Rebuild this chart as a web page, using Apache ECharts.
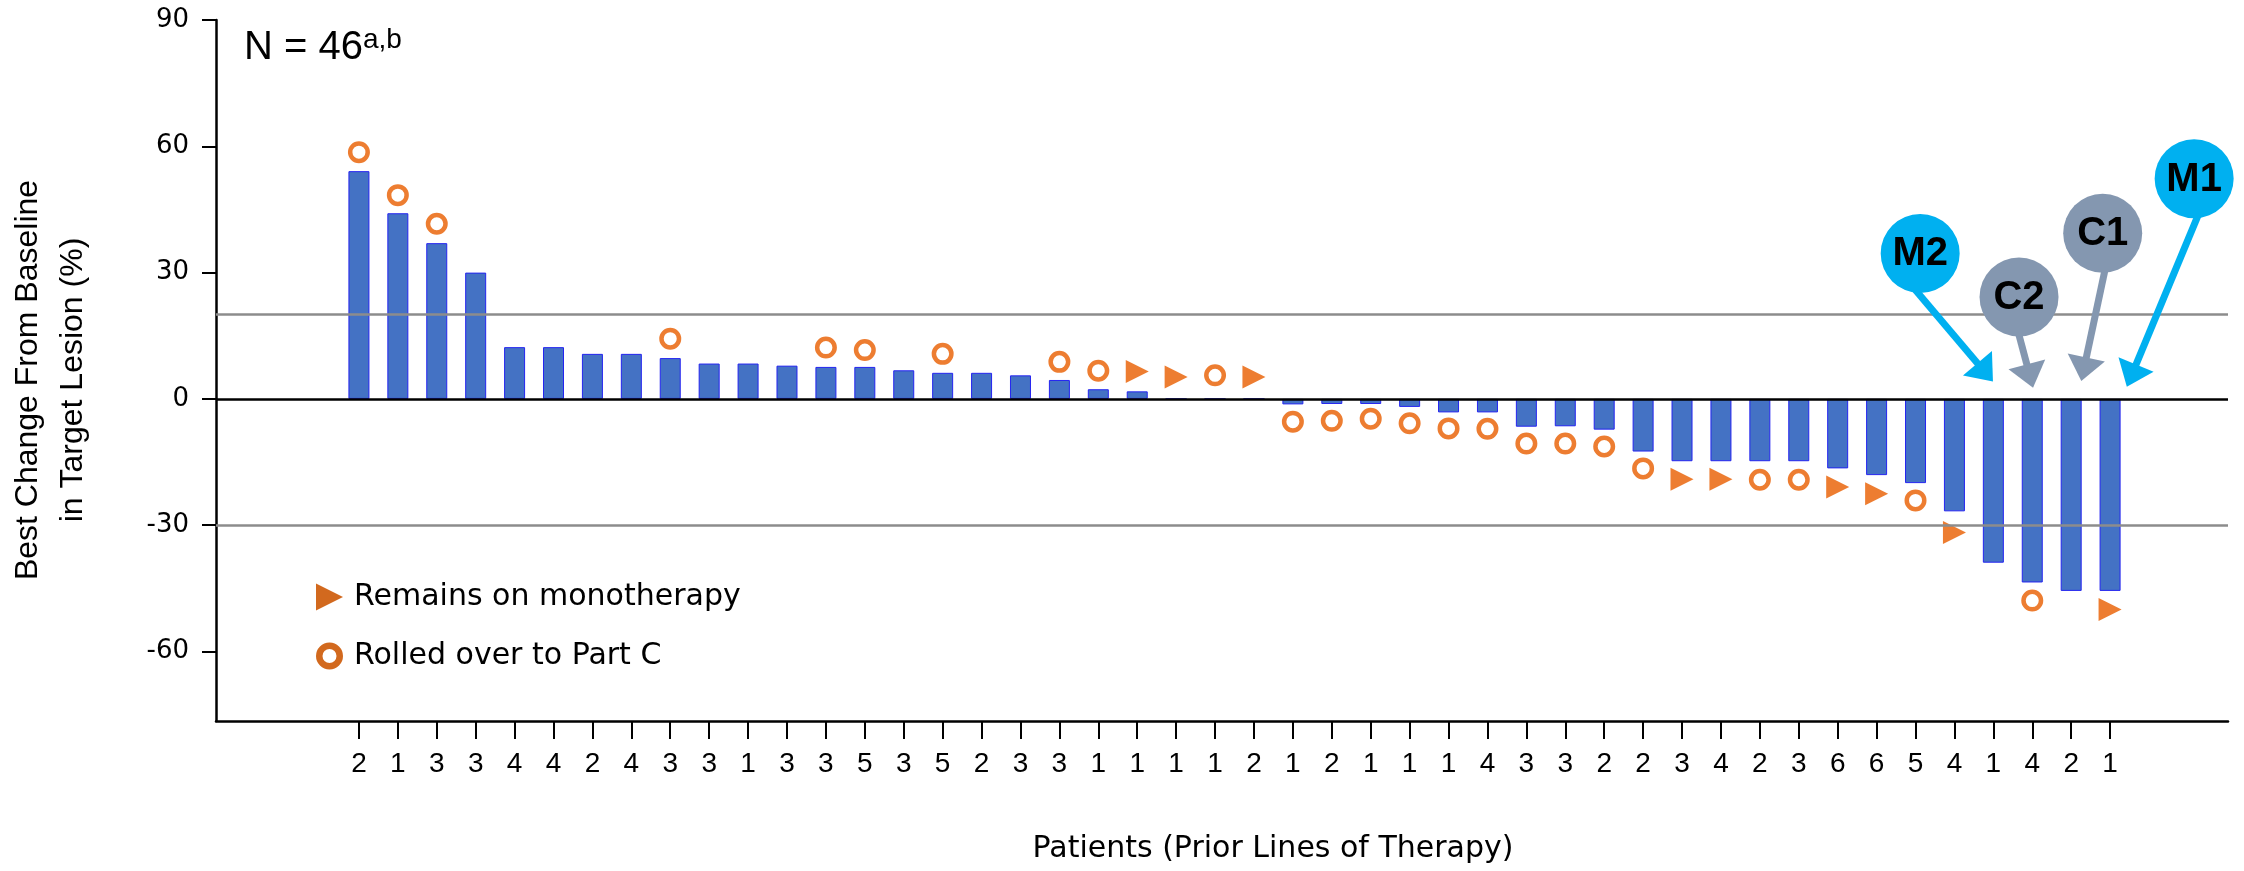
<!DOCTYPE html>
<html><head><meta charset="utf-8">
<script src="https://cdn.jsdelivr.net/npm/echarts@6/dist/echarts.min.js"></script>
<style>html,body{margin:0;padding:0;background:#fff}#c{width:2244px;height:871px}</style>
</head><body><div id="c"></div>
<script>
// ---- data ----
const priorLines = [2,1,3,3,4,4,2,4,3,3, 1,3,3,5,3,5,2,3,3,1, 1,1,1,2,1,2,1,1,1,4, 3,3,2,2,3,4,2,3,6,6, 5,4,1,4,2,1];
const bestChange = [54.1,44.1,37.0,30.0,12.3,12.3,10.7,10.7,9.7,8.4, 8.4,7.9,7.6,7.6,6.8,6.2,6.2,5.6,4.5,2.3, 1.8,0,0,0,-1.3,-1.2,-1.2,-1.9,-3.2,-3.2, -6.6,-6.5,-7.3,-12.5,-14.8,-14.8,-14.8,-14.8,-16.5,-18.1, -20.0,-26.7,-38.9,-43.6,-45.6,-45.6];
const rolledOverPatients = [1,2,3,9,13,14,16,19,20,23,25,26,27,28,29,30,31,32,33,34,37,38,41,44];
const rolledOverMarkerY  = [58.6,48.4,41.6,14.3,12.2,11.6,10.7,8.8,6.7,5.6,-5.4,-5.2,-4.7,-5.8,-7.0,-7.1,-10.6,-10.6,-11.3,-16.5,-19.2,-19.2,-24.1,-47.9];
const monoPatients = [21,22,24,35,36,39,40,42,46];
const monoMarkerY  = [6.5,5.2,5.2,-19.1,-19.1,-20.9,-22.5,-31.7,-50.0];
const yTicks = [-60,-30,0,30,60,90];
const thresholds = [20,-30];
const annLabels = ['M2','C2','C1','M1'];
const annColors = ['#00B0F0','#8497B0','#8497B0','#00B0F0'];
const annCenter = [[41.12,34.55],[43.66,24.22],[45.81,39.35],[48.16,52.3]];
const annStart  = [[41.06,25.17],[43.67,14.8],[45.85,29.85],[48.23,42.9]];
const annTip    = [[42.99,4.11],[44.02,2.68],[45.26,4.27],[46.43,2.92]];
const legendNames = ['Remains on monotherapy','Rolled over to Part C'];
const xTitle = 'Patients (Prior Lines of Therapy)';
const yTitle = 'Best Change From Baseline\nin Target Lesion (%)';

// ---- chart ----
const chart = echarts.init(document.getElementById('c'));
const patientIdx = priorLines.map((_, i) => i + 1);
const barData = bestChange.map((v, i) => [i + 1, v]);
const rolledData = rolledOverPatients.map((p, i) => [p, rolledOverMarkerY[i]]);
const monoData = monoPatients.map((p, i) => [p, monoMarkerY[i]]);
const triPath = 'path://M0,0L10,5L0,10Z';
const ringPath = 'path://M13.5,0A13.5,13.5,0,1,1,13.5,27A13.5,13.5,0,1,1,13.5,0ZM13.5,6.5A7,7,0,1,0,13.5,20.5A7,7,0,1,0,13.5,6.5Z';

const option = {
  animation: false,
  backgroundColor: '#fff',
  grid: { left: 216, right: 16, top: 20, bottom: 150 },
  xAxis: {
    type: 'value', min: -2.673, max: 49.03,
    axisLine: { show: true, onZero: false, lineStyle: { color: '#000', width: 2.5 } },
    axisTick: { show: true, customValues: patientIdx, length: 18, lineStyle: { color: '#000', width: 2 } },
    axisLabel: { customValues: patientIdx, formatter: v => String(priorLines[Math.round(v) - 1]), margin: 29,
      fontFamily: 'Liberation Sans', fontSize: 28, color: '#000' },
    splitLine: { show: false }
  },
  yAxis: {
    type: 'value', min: -76.5, max: 90,
    axisLine: { show: true, onZero: false, lineStyle: { color: '#000', width: 2.5 } },
    axisTick: { show: true, customValues: yTicks, length: 14, lineStyle: { color: '#000', width: 2 } },
    axisLabel: { customValues: yTicks, margin: 27, fontFamily: 'DejaVu Sans', fontSize: 26, color: '#000' },
    splitLine: { show: false }
  },
  legend: {
    orient: 'vertical', left: 311, top: 577, itemWidth: 27, itemHeight: 30, itemGap: 29, selectedMode: false,
    itemStyle: { borderWidth: 0 },
    textStyle: { fontFamily: 'DejaVu Sans', fontSize: 30, color: '#000', padding: [0, 0, 0, 6] },
    data: [
      { name: legendNames[0], icon: triPath, itemStyle: { color: '#D2691E', borderWidth: 0, opacity: 1 } },
      { name: legendNames[1], icon: ringPath, itemStyle: { color: '#D2691E', borderWidth: 0, opacity: 1 } }
    ]
  },
  series: [
    { type: 'line', data: [], z: 1, silent: true,
      markLine: { symbol: ['none','none'], silent: true, label: { show: false },
        lineStyle: { color: '#8c8c8c', width: 2.5, type: 'solid' },
        data: thresholds.map(v => ({ yAxis: v })) } },
    { type: 'bar', data: barData, barWidth: 21, z: 2, silent: true,
      itemStyle: { color: '#4472C4', borderColor: '#2424F0', borderWidth: 1 } },
    { type: 'line', data: [], z: 3, silent: true,
      markLine: { symbol: ['none','none'], silent: true, label: { show: false },
        lineStyle: { color: '#000', width: 2.5, type: 'solid' }, data: [{ yAxis: 0 }] } },
    { name: legendNames[1], type: 'scatter', data: rolledData, z: 4, symbol: 'circle', symbolSize: 17.5,
      itemStyle: { color: '#fff', borderColor: '#ED7D31', borderWidth: 4.5, opacity: 1 } },
    { name: legendNames[0], type: 'scatter', data: monoData, z: 4, symbol: triPath, symbolSize: [23, 23],
      itemStyle: { color: '#ED7D31', opacity: 1 } }
  ]
};
chart.setOption(option);

// ---- annotations & texts ----
const graphics = [];
annLabels.forEach((lab, i) => {
  const col = annColors[i];
  const c = chart.convertToPixel({ gridIndex: 0 }, annCenter[i]);
  const s = chart.convertToPixel({ gridIndex: 0 }, annStart[i]);
  const t = chart.convertToPixel({ gridIndex: 0 }, annTip[i]);
  const dx = t[0] - s[0], dy = t[1] - s[1], L = Math.hypot(dx, dy);
  const ux = dx / L, uy = dy / L, px = -uy, py = ux;
  const headLen = 24, headHalf = 19;
  const bx = t[0] - headLen * ux, by = t[1] - headLen * uy;
  graphics.push({ type: 'line', z: 10, silent: true,
    shape: { x1: s[0] - 8 * ux, y1: s[1] - 8 * uy, x2: bx + 2 * ux, y2: by + 2 * uy },
    style: { stroke: col, lineWidth: 7 } });
  graphics.push({ type: 'polygon', z: 10, silent: true,
    shape: { points: [[t[0], t[1]], [bx + headHalf * px, by + headHalf * py], [bx - headHalf * px, by - headHalf * py]] },
    style: { fill: col } });
  graphics.push({ type: 'circle', z: 11, silent: true, shape: { cx: c[0], cy: c[1], r: 39.5 }, style: { fill: col } });
  graphics.push({ type: 'text', z: 12, silent: true, x: c[0], y: c[1] + 1,
    style: { text: lab, fill: '#000', font: 'bold 40px "Liberation Sans"', textAlign: 'center', textVerticalAlign: 'middle' } });
});
graphics.push({ type: 'text', z: 12, silent: true, x: 244, y: 26,
  style: { text: '{n|N = 46}{s|a,b}', textAlign: 'left', textVerticalAlign: 'top',
    rich: { n: { fontFamily: 'Liberation Sans', fontSize: 40, lineHeight: 44, fill: '#000', color: '#000' },
            s: { fontFamily: 'Liberation Sans', fontSize: 28, lineHeight: 26, verticalAlign: 'top', fill: '#000', color: '#000' } } } });
graphics.push({ type: 'text', z: 12, silent: true, x: 1273, y: 849,
  style: { text: xTitle, fill: '#000', font: '30px "DejaVu Sans"', textAlign: 'center', textVerticalAlign: 'middle' } });
graphics.push({ type: 'text', z: 12, silent: true, x: 50.5, y: 380, rotation: Math.PI / 2,
  style: { text: yTitle, fill: '#000', font: '32px "Liberation Sans"', lineHeight: 45, textAlign: 'center', textVerticalAlign: 'middle' } });
chart.setOption({ graphic: graphics });
</script></body></html>
